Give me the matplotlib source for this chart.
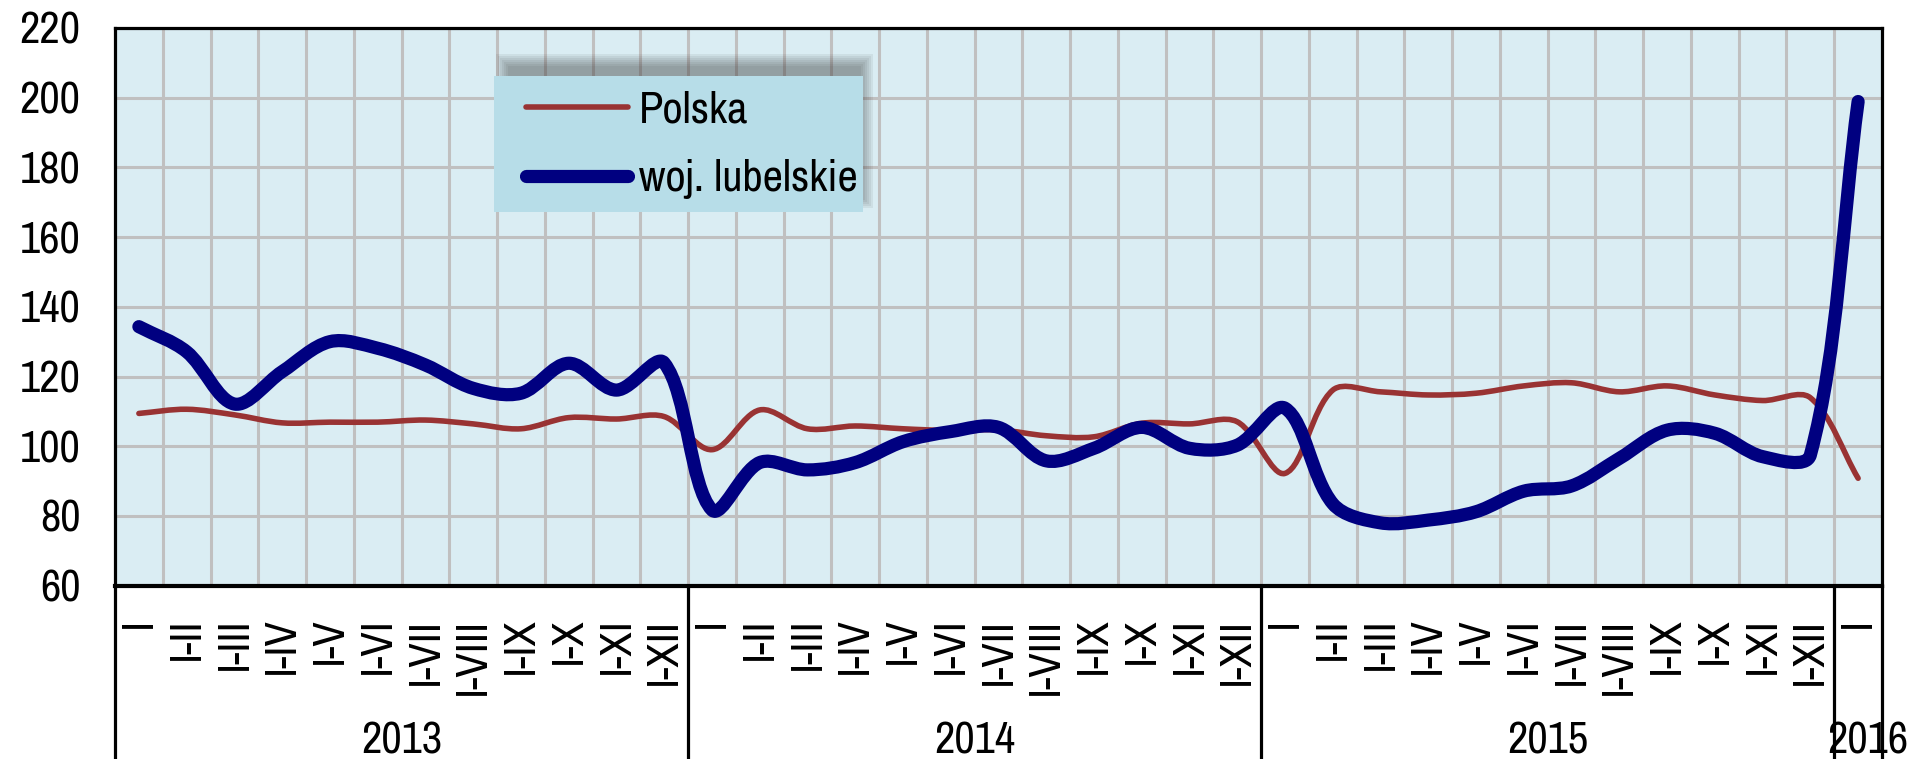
import numpy as np
import matplotlib
matplotlib.use("Agg")
import matplotlib.pyplot as plt
from matplotlib import font_manager
from matplotlib.path import Path
from matplotlib.patches import PathPatch, Rectangle
from matplotlib.lines import Line2D

# index values, cumulative periods (I, I-II, ... I-XII) per year
years = ["2013", "2014", "2015", "2016"]
periods = ["I", "I-II", "I-III", "I-IV", "I-V", "I-VI", "I-VII",
           "I-VIII", "I-IX", "I-X", "I-XI", "I-XII"]
tick_labels = periods * 3 + ["I"]

polska = [109.4, 110.6, 109.0, 106.7, 106.9, 106.9, 107.5, 106.4, 105.0, 108.2, 107.8, 108.5,
          99.0, 110.4, 105.0, 105.8, 105.0, 104.5, 104.7, 103.0, 102.7, 106.6, 106.4, 107.0,
          92.2, 116.1, 115.6, 114.7, 115.2, 117.3, 118.2, 115.6, 117.3, 114.7, 113.1, 113.9,
          90.8]
lubelskie = [134.3, 127.1, 112.1, 121.4, 130.0, 128.1, 123.3, 116.6, 115.2, 123.8, 116.1, 123.9,
             81.7, 95.3, 93.2, 95.3, 101.3, 104.2, 105.4, 95.8, 99.4, 105.4, 99.4, 100.3,
             110.9, 83.5, 78.0, 78.8, 81.2, 87.1, 88.6, 96.5, 104.6, 103.7, 97.0, 97.5,
             198.9]

W, H = 1913, 759
names = {f.name for f in font_manager.fontManager.ttflist}
font = next((f for f in ["Liberation Sans Narrow", "Archivo Narrow", "Roboto Condensed"]
             if f in names), "Liberation Sans")
plt.rcParams["font.family"] = [font, "DejaVu Sans"]
FS = 32


def smooth_path(ax, ys):
    # spreadsheet-style smoothed line: bezier tangents weighted by screen distances
    data = np.column_stack([np.arange(len(ys)), np.asarray(ys, float)])
    pix = ax.transData.transform(data)
    n = len(pix)
    verts = [pix[0]]
    codes = [Path.MOVETO]
    for i in range(n - 1):
        p0 = pix[i - 1] if i > 0 else pix[i]
        p1, p2 = pix[i], pix[i + 1]
        p3 = pix[i + 2] if i + 2 < n else pix[i + 1]
        d01 = np.hypot(*(p1 - p0))
        d12 = np.hypot(*(p2 - p1))
        d23 = np.hypot(*(p3 - p2))
        t1 = d12 / (d01 + d12) / 3
        t2 = d12 / (d12 + d23) / 3
        verts += [p1 + (p2 - p0) * t1, p2 - (p3 - p1) * t2, p2]
        codes += [Path.CURVE4] * 3
    verts = ax.transData.inverted().transform(np.array(verts))
    return Path(verts, codes)


fig = plt.figure(figsize=(W / 100, H / 100), dpi=100)
ax = fig.add_axes([115 / W, 1 - 585.6 / H, (1882 - 115) / W, (585.6 - 28) / H])
ax.set_facecolor("#DAEDF3")

n = len(tick_labels)
ax.set_xlim(-0.5, n - 0.5)
ax.set_ylim(60, 220)
ax.set_yticks(np.arange(60, 221, 20))
ax.set_xticks(np.arange(n))
ax.set_xticklabels(tick_labels, rotation=90, va="top", ha="center", fontsize=FS)
ax.set_xticks(np.arange(n - 1) + 0.5, minor=True)
ax.tick_params(axis="y", length=0, pad=25, labelsize=FS)
ax.tick_params(axis="x", which="both", length=0, pad=23)
ax.grid(True, axis="y", color="#C0C0C0", lw=2.2)
ax.grid(True, axis="x", which="minor", color="#C0C0C0", lw=2.2)
ax.set_axisbelow(True)
for s in ax.spines.values():
    s.set_linewidth(2.3)
    s.set_color("black")
ax.spines["bottom"].set_linewidth(3)

ax.add_patch(PathPatch(smooth_path(ax, polska), fill=False, edgecolor="#993333", lw=4,
                       capstyle="round", joinstyle="round", zorder=3))
ax.add_patch(PathPatch(smooth_path(ax, lubelskie), fill=False, edgecolor="#000080", lw=9.5,
                       capstyle="round", joinstyle="round", zorder=4))

# year separators and year labels below the category labels
trans = ax.get_xaxis_transform()
for xb in [-0.5, 11.5, 23.5, 35.5, n - 0.5]:
    ax.plot([xb, xb], [0, -0.32], transform=trans, color="black", lw=2.3, clip_on=False)
for yr, xc in zip(years, [5.5, 17.5, 29.5, 36.2]):
    ax.text(xc, -0.2787, yr, transform=trans, ha="center", va="center", fontsize=FS)

# legend box (pixels) with a soft shadow shifted up and slightly right
bx0, bx1, by0, by1 = 494, 863, 75.7, 211.7
for i in range(7):
    g = 2 * i
    x0, x1 = bx0 + 14 - g, bx1 - 2 + g
    y0, y1 = by0 - 10 - g, by1 - 16 + g
    ax.add_patch(Rectangle((x0 / W, 1 - y1 / H), (x1 - x0) / W, (y1 - y0) / H,
                           transform=fig.transFigure, facecolor="#404040", alpha=0.08,
                           edgecolor="none", zorder=5, clip_on=False))
ax.add_patch(Rectangle((bx0 / W, 1 - by1 / H), (bx1 - bx0) / W, (by1 - by0) / H,
                       transform=fig.transFigure, facecolor="#B7DDE8",
                       edgecolor="none", zorder=5.5, clip_on=False))

handles = [Line2D([], [], color="#993333", lw=4, solid_capstyle="round"),
           Line2D([], [], color="#000080", lw=9.5, solid_capstyle="round")]
leg = ax.legend(handles, ["Polska", "woj. lubelskie"], loc="center left",
                bbox_to_anchor=(526 / W, 1 - 145 / H), bbox_transform=fig.transFigure,
                borderaxespad=0, borderpad=0, handlelength=2.3, handletextpad=0.25,
                labelspacing=0.65, fontsize=FS, frameon=False)
leg.set_zorder(6)

fig.savefig("out.png", dpi=100)
